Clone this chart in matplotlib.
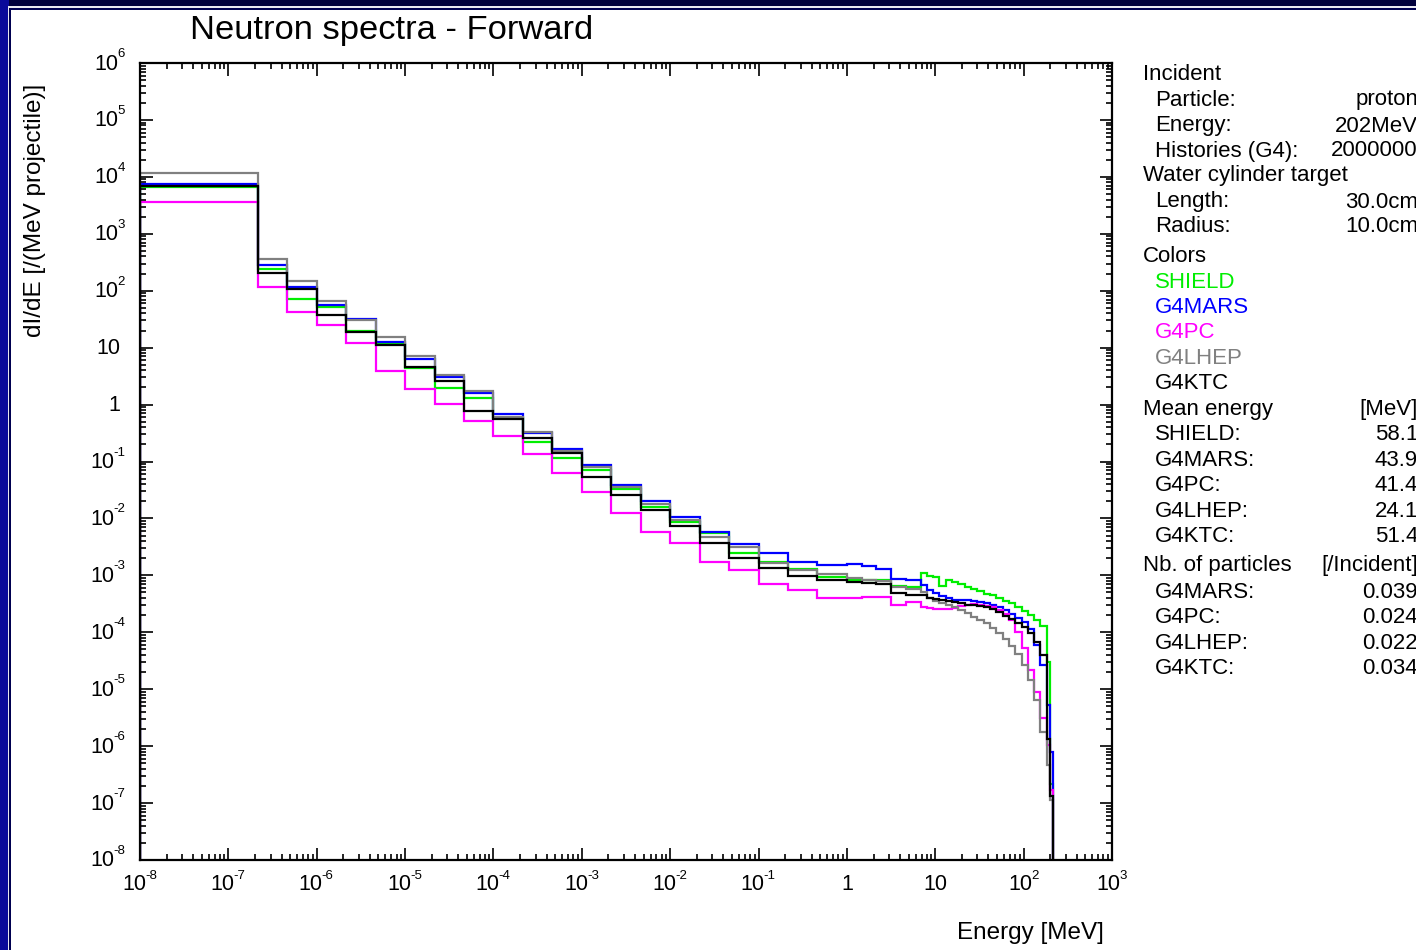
import matplotlib
matplotlib.use('Agg')
import matplotlib.pyplot as plt
from matplotlib.patches import Rectangle
from matplotlib.ticker import LogLocator, NullFormatter
import numpy as np

plt.rcParams['font.family'] = ['Liberation Sans', 'DejaVu Sans']

# Bin edges (MeV): one wide first bin, 1/3 decade to 1 MeV, 1/6 decade to ~7 MeV, fine bins to ~215 MeV
edges = np.concatenate([[1e-8],
                        np.logspace(-20/3, 0, 21),
                        np.logspace(1/6, 5/6, 5),
                        np.logspace(5/6 + 1/14, 5/6 + 20/14, 20),
                        [10**(5/6 + 20/14 + 1/28), 10**(7/3)]])

# dI/dE per bin [/(MeV projectile)]
shield = [6.7e3, 238, 72, 52, 19.4, 11.6, 4.4, 1.95, 1.29, 0.58, 0.223, 0.114, 0.071, 0.0325,
          0.0157, 0.00855, 0.00548, 0.00244, 0.00174, 0.00129, 9.24e-4,
          8.3e-4, 8.3e-4, 8.3e-4, 6.5e-4, 6.2e-4,
          1.10e-3, 9.75e-4, 9.36e-4, 6.5e-4, 8.13e-4, 7.5e-4, 6.92e-4, 6.25e-4, 5.76e-4, 5.32e-4,
          4.80e-4, 4.43e-4, 4.0e-4, 3.55e-4, 3.21e-4, 2.78e-4, 2.37e-4, 2.01e-4, 1.64e-4, 1.29e-4,
          3.0e-5, 2.2e-7]
g4mars = [7.5e3, 279, 118, 55, 32, 12.7, 6.3, 3.0, 1.58, 0.68, 0.32, 0.166, 0.087, 0.0386,
          0.0202, 0.0107, 0.00585, 0.00356, 0.00244, 0.00174, 0.00152,
          1.58e-3, 1.48e-3, 1.28e-3, 8.64e-4, 8.3e-4,
          6.78e-4, 5.53e-4, 4.90e-4, 4.34e-4, 4.0e-4, 3.69e-4, 3.69e-4, 3.69e-4, 3.55e-4, 3.34e-4,
          3.21e-4, 3.01e-4, 2.78e-4, 2.46e-4, 2.10e-4, 1.78e-4, 1.52e-4, 1.14e-4, 5.98e-5, 2.67e-5,
          5.3e-6, 7.9e-7]
g4pc = [3.66e3, 115, 42, 24.7, 12.2, 3.9, 1.9, 1.02, 0.515, 0.284, 0.134, 0.0635, 0.0288, 0.0123,
        0.00585, 0.00375, 0.00174, 0.00124, 6.97e-4, 5.53e-4, 4.05e-4,
        4.05e-4, 4.22e-4, 4.12e-4, 3.01e-4, 3.35e-4,
        2.78e-4, 2.67e-4, 2.56e-4, 2.53e-4, 2.56e-4, 2.67e-4, 2.84e-4, 3.01e-4, 3.14e-4, 3.01e-4,
        2.90e-4, 2.78e-4, 2.46e-4, 2.10e-4, 1.64e-4, 1.01e-4, 5.3e-5, 2.18e-5, 8.95e-6, 3.13e-6,
        1.05e-6, 1.7e-7]
g4lhep = [1.15e4, 361, 150, 67, 30.6, 15.2, 7.1, 3.3, 1.75, 0.61, 0.334, 0.153, 0.081, 0.036,
          0.0179, 0.0094, 0.00466, 0.00311, 0.00163, 0.00124, 0.00106,
          8.88e-4, 8.3e-4, 8.06e-4, 6.17e-4, 5.69e-4,
          5.1e-4, 4.0e-4, 3.55e-4, 3.27e-4, 3.01e-4, 2.73e-4, 2.46e-4, 2.18e-4, 1.86e-4, 1.64e-4,
          1.43e-4, 1.19e-4, 9.7e-5, 7.6e-5, 5.74e-5, 4.16e-5, 2.67e-5, 1.45e-5, 6.47e-6, 1.77e-6,
          4.67e-7, 1.13e-7]
g4ktc = [7.0e3, 207, 106, 37, 18.8, 11, 4.5, 2.57, 0.78, 0.55, 0.256, 0.139, 0.053, 0.0255,
         0.0141, 0.00736, 0.00375, 0.002, 0.00136, 9.75e-4, 8.3e-4,
         7.74e-4, 7.26e-4, 7.05e-4, 4.96e-4, 4.52e-4,
         4.52e-4, 4.0e-4, 3.85e-4, 3.69e-4, 3.55e-4, 3.34e-4, 3.21e-4, 3.01e-4, 2.96e-4, 2.84e-4,
         2.73e-4, 2.53e-4, 2.28e-4, 1.97e-4, 1.71e-4, 1.46e-4, 1.24e-4, 9.7e-5, 6.76e-5, 3.99e-5,
         1.34e-6, 1.33e-7]

names = ['SHIELD', 'G4MARS', 'G4PC', 'G4LHEP', 'G4KTC']
colors = ['#00ee00', '#0000ff', '#ff00ff', '#808080', '#000000']
series = [shield, g4mars, g4pc, g4lhep, g4ktc]

mean_energy = ['58.1', '43.9', '41.4', '24.1', '51.4']
nb_names = ['G4MARS', 'G4PC', 'G4LHEP', 'G4KTC']
nb_particles = ['0.039', '0.024', '0.022', '0.034']

x_decades = range(-8, 4)
y_decades = range(-8, 7)

W, H = 1416, 950
fig = plt.figure(figsize=(W/100, H/100), dpi=100, facecolor='#00003c')

# frame: blue strip left, thin light line, navy line, white page
def px_rect(x0, y0, x1, y1, color):
    fig.add_artist(Rectangle((x0/W, 1 - y1/H), (x1 - x0)/W, (y1 - y0)/H,
                             transform=fig.transFigure, color=color, zorder=-10, lw=0))

px_rect(0, 0, 9, H, '#0a0a9a')
px_rect(8, 6, W, H, '#e8e8f0')
px_rect(9, 8, W, H, '#000050')
px_rect(11, 10, W, H, 'white')

ax = fig.add_axes([140/W, 1 - 860/H, (1112 - 140)/W, (860 - 63)/H])
ax.set_facecolor('white')

for vals, col in zip(series, colors):
    ax.stairs(vals, edges, baseline=1e-12, color=col, lw=1.6)

ax.set_xscale('log')
ax.set_yscale('log')
ax.set_xlim(1e-8, 1e3)
ax.set_ylim(1e-8, 1e6)

for axis in (ax.xaxis, ax.yaxis):
    axis.set_major_locator(LogLocator(base=10, numticks=30))
    axis.set_minor_locator(LogLocator(base=10, subs=np.arange(2, 10), numticks=300))
    axis.set_major_formatter(NullFormatter())
    axis.set_minor_formatter(NullFormatter())

ax.tick_params(which='both', direction='in', top=True, right=True, width=1.2)
ax.tick_params(which='major', length=9)
ax.tick_params(which='minor', length=4.5)
for s in ax.spines.values():
    s.set_linewidth(1.6)

# tick labels drawn by hand: "10" with a small raised exponent
base_fs, exp_fs = 15.5, 9.5
pt = 0.72  # points per pixel at dpi 100
base_w = 2 * 0.556 * base_fs / pt
def exp_w(s):
    return sum(0.333 if c == '-' else 0.556 for c in s) * exp_fs / pt

def put(text, xy, coords, dx, dy, fs, ha):
    ax.annotate(text, xy=xy, xycoords=coords, xytext=(dx*pt, dy*pt),
                textcoords='offset points', fontsize=fs, ha=ha, va='center',
                annotation_clip=False)

for e in x_decades:
    c = ('data', 'axes fraction')
    if e in (0, 1):
        put(str(10**e), (10.0**e, 0), c, 0, -24, base_fs, 'center')
    else:
        s = str(e)
        total = base_w + exp_w(s)
        br = -total/2 + base_w
        put('10', (10.0**e, 0), c, br, -24, base_fs, 'right')
        put(s, (10.0**e, 0), c, br - 1, -16, exp_fs, 'left')

for e in y_decades:
    c = ('axes fraction', 'data')
    if e in (0, 1):
        put(str(10**e), (0, 10.0**e), c, -20, -1, base_fs, 'right')
    else:
        s = str(e)
        el = -15 - exp_w(s)
        put('10', (0, 10.0**e), c, el + 1, -1, base_fs, 'right')
        put(s, (0, 10.0**e), c, el, 9, exp_fs, 'left')

fig.text(190/W, 1 - 30/H, 'Neutron spectra - Forward', fontsize=24.8, ha='left', va='center')
fig.text(35/W, 1 - 210/H, 'dI/dE [/(MeV projectile)]', fontsize=17.5, rotation=90,
         ha='center', va='center')
fig.text(1104/W, 1 - 933/H, 'Energy [MeV]', fontsize=17.5, ha='right', va='center')

# info panel on the right
xh, xs, xv = 1143/W, 1155/W, 1418/W
fs = 16

def line(y, text, x=xs, color='black', ha='left'):
    fig.text(x, 1 - y/H, text, fontsize=fs, color=color, ha=ha, va='center')

line(75, 'Incident', xh)
line(100, 'Particle:'); line(100, 'proton', xv, ha='right')
line(126, 'Energy:'); line(126, '202MeV', xv, ha='right')
line(151, 'Histories (G4):'); line(151, '2000000', xv, ha='right')
line(176, 'Water cylinder target', xh)
line(202, 'Length:'); line(202, '30.0cm', xv, ha='right')
line(227, 'Radius:'); line(227, '10.0cm', xv, ha='right')
line(257, 'Colors', xh)
for i, (n, c) in enumerate(zip(names, colors)):
    line(282 + i*25.4, n, color=c)
line(409, 'Mean energy', xh); line(409, '[MeV]', xv, ha='right')
for i, (n, m) in enumerate(zip(names, mean_energy)):
    line(435 + i*25.5, n + ':')
    line(435 + i*25.5, m, xv, ha='right')
line(566, 'Nb. of particles', xh); line(566, '[/Incident]', xv, ha='right')
for i, (n, m) in enumerate(zip(nb_names, nb_particles)):
    line(592 + i*25.6, n + ':')
    line(592 + i*25.6, m, xv, ha='right')

fig.savefig('out.png', dpi=100, facecolor=fig.get_facecolor())
